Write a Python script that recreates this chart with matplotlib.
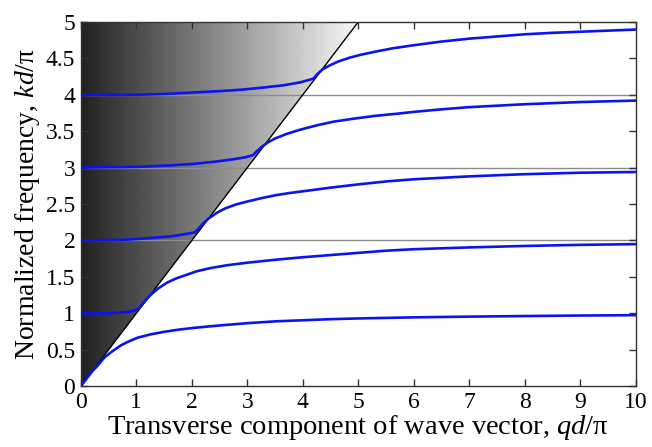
import numpy as np
import matplotlib.pyplot as plt
from matplotlib.patches import Polygon

plt.rcParams['font.family'] = ['Liberation Serif', 'DejaVu Serif']
plt.rcParams['mathtext.fontset'] = 'custom'
plt.rcParams['mathtext.rm'] = 'Liberation Serif'
plt.rcParams['mathtext.it'] = 'Liberation Serif:italic'

# dispersion branches (qd/pi, kd/pi)
q0 = [0.0, 0.1, 0.2, 0.3, 0.42, 0.55, 0.72, 0.85, 1.02, 1.25, 1.49, 1.75, 2.03, 2.3, 2.6,
      3.0, 3.5, 4.0, 4.5, 5.0, 6.0, 7.0, 8.0, 9.0, 10.0]
k0 = [0.0, 0.1, 0.2, 0.28, 0.39, 0.47, 0.56, 0.61, 0.665, 0.71, 0.745, 0.775, 0.80, 0.82, 0.84,
      0.865, 0.89, 0.905, 0.92, 0.93, 0.945, 0.955, 0.963, 0.97, 0.975]

q1 = [0.0, 0.5, 0.7, 0.85, 0.95, 1.04, 1.1, 1.18, 1.26, 1.4, 1.55, 1.72, 1.91, 2.1, 2.33, 2.63,
      3.0, 3.5, 4.0, 4.5, 5.0, 5.5, 6.0, 7.0, 8.0, 9.0, 10.0]
k1 = [1.0, 1.0, 1.01, 1.02, 1.035, 1.065, 1.12, 1.19, 1.255, 1.345, 1.42, 1.48, 1.53, 1.58, 1.62, 1.66,
      1.695, 1.735, 1.77, 1.80, 1.83, 1.86, 1.88, 1.905, 1.925, 1.94, 1.95]

q2 = [0.0, 0.8, 1.2, 1.66, 1.9, 2.05, 2.12, 2.2, 2.3, 2.45, 2.6, 2.8, 3.0, 3.25, 3.5, 3.75,
      4.0, 4.5, 5.0, 5.5, 6.0, 7.0, 8.0, 9.0, 10.0]
k2 = [2.0, 2.01, 2.03, 2.06, 2.09, 2.11, 2.16, 2.23, 2.3, 2.38, 2.44, 2.495, 2.535, 2.58, 2.62, 2.65,
      2.675, 2.725, 2.77, 2.81, 2.84, 2.88, 2.91, 2.93, 2.94]

q3 = [0.0, 1.0, 1.6, 2.0, 2.4, 2.7, 2.95, 3.1, 3.18, 3.27, 3.38, 3.5, 3.7, 3.95, 4.25, 4.55,
      4.9, 5.3, 5.7, 6.0, 6.5, 7.0, 8.0, 9.0, 10.0]
k3 = [3.0, 3.01, 3.03, 3.05, 3.08, 3.11, 3.14, 3.17, 3.23, 3.29, 3.35, 3.40, 3.46, 3.52, 3.58, 3.63,
      3.67, 3.71, 3.74, 3.765, 3.80, 3.83, 3.87, 3.90, 3.92]

q4 = [0.0, 1.0, 1.5, 2.0, 2.5, 2.9, 3.3, 3.65, 3.95, 4.19, 4.27, 4.36, 4.49, 4.65, 4.85, 5.05,
      5.3, 5.6, 6.0, 6.5, 7.0, 7.5, 8.0, 8.5, 9.0, 9.5, 10.0]
k4 = [4.0, 4.0, 4.01, 4.03, 4.05, 4.07, 4.10, 4.13, 4.17, 4.22, 4.29, 4.35, 4.405, 4.46, 4.51, 4.55,
      4.59, 4.635, 4.68, 4.73, 4.77, 4.80, 4.83, 4.85, 4.865, 4.88, 4.895]

branches = [(q0, k0), (q1, k1), (q2, k2), (q3, k3), (q4, k4)]
level_lines = [2, 3, 4]
light_q = [0, 5]
light_k = [0, 5]

fig = plt.figure(figsize=(6.52, 4.47), dpi=100)
ax = fig.add_axes([0.124, 0.136, 0.851, 0.815])

# gradient in the region above the light line
grad = np.linspace(0.13, 0.97, 256).reshape(1, -1)
im = ax.imshow(grad, cmap='gray', vmin=0, vmax=1, extent=[0, 5, 0, 5],
               aspect='auto', origin='lower', zorder=0)
tri = Polygon([[0, 0], [5, 5], [0, 5]], closed=True, transform=ax.transData)
im.set_clip_path(tri)

for lv in level_lines:
    ax.axhline(lv, color='#8c8c8c', lw=1.0, zorder=1)

ax.plot(light_q, light_k, color='black', lw=1.0, zorder=2)

for q, k in branches:
    ax.plot(q, k, color='#0a14f0', lw=1.9, zorder=3, solid_capstyle='round',
            solid_joinstyle='round')

ax.set_xlim(0, 10)
ax.set_ylim(0, 5)
ax.set_xticks(range(0, 11))
yt = np.arange(0, 5.01, 0.5)
ax.set_yticks(yt)
ax.set_yticklabels(['%g' % v for v in yt])
ax.tick_params(direction='in', top=True, right=True, length=5, width=1,
               labelsize=17, pad=4, color='#333333')
for s in ax.spines.values():
    s.set_color('#333333')
    s.set_linewidth(1.0)

ax.set_xlabel('Transverse component of wave vector, $qd$/\u03c0', fontsize=20.5, labelpad=0)
ax.set_ylabel('Normalized frequency, $kd$/\u03c0', fontsize=20, labelpad=3)

fig.savefig('out.png', dpi=100)
